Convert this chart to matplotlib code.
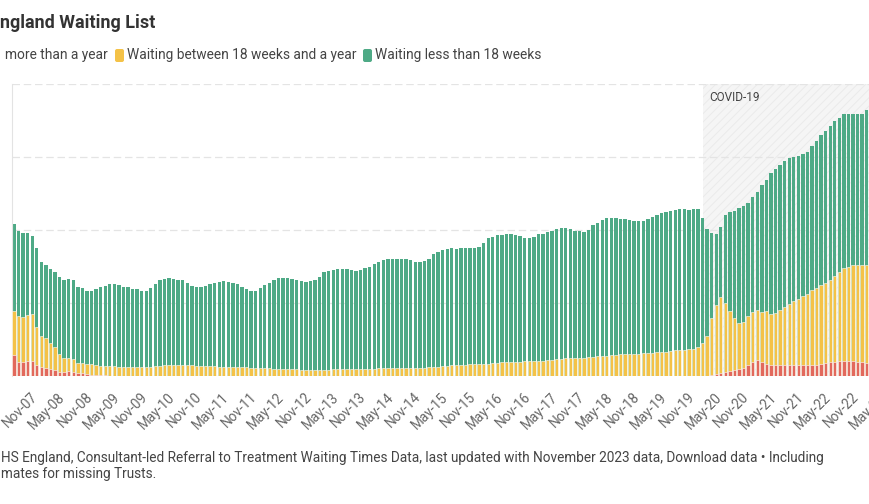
import matplotlib.pyplot as plt
import matplotlib.transforms as mtransforms
import numpy as np
import pandas as pd
from matplotlib.patches import FancyBboxPatch

plt.rcParams['font.family'] = ['Roboto', 'DejaVu Sans']
plt.rcParams['hatch.linewidth'] = 0.6

# waiting list, thousands of pathways, monthly from Aug-07
total = [
    4160, 3970, 3920, 3910, 3840,
    3500, 3120, 3040, 2930, 2860, 2720, 2630, 2660, 2630, 2450, 2410, 2340,
    2340, 2380, 2450, 2470, 2520, 2520, 2500, 2450, 2430, 2380, 2380, 2340,
    2340, 2420, 2530, 2620, 2660, 2680, 2660, 2640, 2620, 2560, 2470, 2430,
    2440, 2470, 2530, 2560, 2580, 2590, 2570, 2550, 2520, 2440, 2370, 2330,
    2340, 2400, 2480, 2560, 2640, 2680, 2680, 2680, 2670, 2640, 2590, 2570,
    2600, 2630, 2700, 2840, 2870, 2900, 2930, 2930, 2920, 2900, 2890, 2900,
    2950, 2990, 3060, 3120, 3180, 3200, 3210, 3210, 3210, 3200, 3170, 3120,
    3110, 3150, 3200, 3330, 3400, 3450, 3470, 3500, 3490, 3500, 3500, 3500,
    3500, 3540, 3640, 3780, 3820, 3850, 3870, 3890, 3890, 3870, 3840, 3790,
    3780, 3820, 3880, 3900, 3940, 3980, 4020, 4050, 4050, 4040, 3980, 3960,
    3950, 4000, 4140, 4200, 4270, 4320, 4330, 4330, 4300, 4290, 4270, 4240,
    4250, 4260, 4300, 4360, 4420, 4460, 4490, 4520, 4560, 4570, 4570, 4560,
    4570, 4570, 4320, 4030, 3920, 3900, 4080, 4400, 4490, 4520, 4590, 4650,
    4750, 4900, 5050, 5230, 5380, 5550, 5680, 5790, 5900, 5960, 6000, 6040,
    6080, 6150, 6300, 6450, 6600, 6720, 6850, 6980, 7060, 7170, 7190, 7180,
    7180, 7190, 7300,
]

# waiting more than 18 weeks (includes more than a year)
over_18wk = [
    1780, 1640, 1620, 1670, 1700,
    1350, 1100, 1040, 900, 800, 600, 500, 500, 460, 360, 360, 340,
    340, 300, 280, 270, 270, 270, 260, 260, 250, 250, 260, 260,
    260, 260, 270, 280, 290, 300, 300, 300, 310, 300, 290, 280,
    280, 270, 270, 270, 260, 260, 260, 250, 250, 240, 240, 230,
    230, 220, 220, 210, 200, 200, 190, 190, 180, 180, 170, 170,
    170, 170, 170, 170, 170, 180, 180, 190, 190, 190, 190, 190,
    200, 200, 200, 210, 210, 220, 220, 220, 220, 220, 220, 230,
    230, 230, 240, 250, 260, 270, 280, 290, 300, 300, 310, 320,
    320, 330, 340, 340, 350, 360, 370, 380, 380, 390, 390, 400,
    400, 410, 420, 420, 430, 440, 460, 470, 480, 480, 490, 500,
    500, 510, 530, 540, 550, 560, 570, 580, 590, 600, 600, 610,
    610, 620, 630, 640, 650, 660, 670, 690, 700, 710, 720, 740,
    750, 790, 900, 1100, 1600, 1950, 2170, 2000, 1770, 1600, 1450, 1480,
    1650, 1750, 1820, 1740, 1780, 1700, 1720, 1800, 1900, 1980, 2060, 2120,
    2180, 2250, 2350, 2420, 2480, 2540, 2640, 2750, 2860, 2960, 2990, 3050,
    3040, 3030, 3050,
]

# waiting more than a year
over_year = [
    580, 380, 380, 400, 410,
    300, 250, 220, 200, 170, 120, 100, 130, 120, 90, 80, 60,
    40, 30, 20, 15, 12, 10, 10, 10, 10, 10, 10, 10,
    12, 12, 12, 12, 12, 12, 12, 12, 12, 12, 12, 12,
    8, 8, 8, 8, 8, 8, 8, 8, 8, 8, 8, 8,
    5, 5, 5, 5, 5, 5, 5, 5, 5, 5, 5, 5,
    3, 3, 3, 3, 3, 3, 3, 3, 3, 3, 3, 3,
    3, 3, 3, 3, 3, 3, 3, 3, 3, 3, 3, 3,
    3, 3, 3, 3, 3, 3, 3, 3, 3, 3, 3, 3,
    3, 3, 3, 3, 3, 3, 3, 3, 3, 3, 3, 3,
    3, 3, 3, 3, 3, 3, 3, 3, 3, 3, 3, 3,
    3, 3, 3, 3, 3, 3, 3, 3, 3, 3, 3, 3,
    3, 3, 3, 3, 3, 3, 3, 3, 3, 3, 3, 3,
    2, 2, 3, 11, 26, 50, 84, 112, 140, 162, 192, 224,
    305, 388, 436, 386, 336, 305, 292, 293, 300, 312, 307, 311,
    306, 300, 300, 306, 333, 355, 377, 387, 402, 410, 406, 406,
    380, 370, 359,
]

green = '#4eaa86'
yellow = '#f4c247'
red = '#e2695c'

months = pd.date_range('2007-08-01', periods=len(total) + 6, freq='MS')
x = np.arange(len(total))
covid_start = list(months).index(pd.Timestamp('2020-03-01'))

W, H = 869, 504
fig = plt.figure(figsize=(W / 100, H / 100), dpi=100)
ax = fig.add_axes([12 / W, (H - 376) / H, 888 / W, 292 / H])

ax.axvspan(covid_start, 200, facecolor='#f5f5f5', edgecolor='none', zorder=0)
ax.axvspan(covid_start, 200, facecolor='none', edgecolor='#e9e9e9',
           hatch='////', linewidth=0, zorder=0)
ax.text(covid_start + 1.5, 7530, 'COVID-19', fontsize=8.5, color='#444',
        va='baseline')

ax.bar(x, total, width=0.74, color=green, zorder=2)
ax.bar(x, over_18wk, width=0.74, color=yellow, edgecolor='white',
       linewidth=0.4, zorder=3)
ax.bar(x, over_year, width=0.74, color=red, edgecolor='white',
       linewidth=0.4, zorder=4)

ax.set_ylim(0, 8000)
ax.set_xlim(-0.44, -0.44 + 888 / 4.56)
ax.set_yticks([0, 2000, 4000, 6000, 8000])
ax.set_yticklabels([])
ax.yaxis.grid(True, color='#e4e4e4', linestyle=(0, (6, 3)), linewidth=0.9)
ax.set_axisbelow(True)
ax.tick_params(length=0)

tick_idx = [i for i, m in enumerate(months) if m.month in (5, 11)]
ax.set_xticks(tick_idx)
ax.set_xticklabels([months[i].strftime('%b-%y') for i in tick_idx],
                   rotation=45, ha='right', va='top', rotation_mode='anchor',
                   fontsize=9.8, color='#666')
ax.tick_params(axis='x', pad=10)
shift = mtransforms.ScaledTranslation(3 / 100, 0, fig.dpi_scale_trans)
for lab in ax.get_xticklabels():
    lab.set_transform(lab.get_transform() + shift)

for s in ['top', 'right', 'bottom']:
    ax.spines[s].set_visible(False)
ax.spines['left'].set_color('#e3e3e3')

fig.text(0, 1 - 28 / H, 'ngland Waiting List', fontsize=13, fontweight='bold',
         color='#333', va='baseline')

legend_items = [(None, 5, 'more than a year'),
                (yellow, 127, 'Waiting between 18 weeks and a year'),
                (green, 375, 'Waiting less than 18 weeks')]
for col, tx, label in legend_items:
    if col is not None:
        fig.add_artist(FancyBboxPatch(((tx - 12) / 100, (H - 62) / 100), 0.09, 0.13,
                                      boxstyle='round,pad=0,rounding_size=0.02',
                                      transform=fig.dpi_scale_trans,
                                      facecolor=col, edgecolor='none'))
    fig.text(tx / W, 1 - 59 / H, label, fontsize=9.9, color='#444', va='baseline')

fig.text(1 / W, 1 - 462 / H,
         'HS England, Consultant-led Referral to Treatment Waiting Times Data, '
         'last updated with November 2023 data, Download data \u2022 Including',
         fontsize=9.8, color='#444', va='baseline')
fig.text(1 / W, 1 - 478 / H, 'mates for missing Trusts.', fontsize=9.8,
         color='#444', va='baseline')

fig.savefig('out.png', dpi=100)
